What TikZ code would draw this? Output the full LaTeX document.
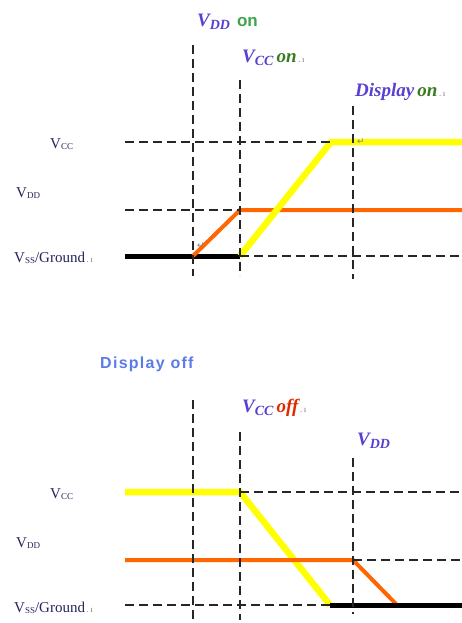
\documentclass[tikz,border=0pt]{standalone}
\usepackage{fontspec}
\setmainfont{Liberation Serif}
\newfontfamily\sansf{Liberation Sans}
\newfontfamily\djv{DejaVu Sans}
\definecolor{navy}{HTML}{23235A}
\definecolor{vpurp}{HTML}{5A3FD0}
\definecolor{ongreen}{HTML}{3FA34D}
\definecolor{onolive}{HTML}{3A7A20}
\definecolor{offred}{HTML}{DD2A00}
\definecolor{dispblue}{HTML}{5B7BE8}
\definecolor{vccy}{HTML}{FFFF00}
\definecolor{vddo}{HTML}{FF6600}
\newcommand\lv[1]{V\raisebox{-1.5pt}{\fontsize{9}{9}\selectfont #1}}
\newcommand\iv[1]{{\bfseries\itshape V\raisebox{-3pt}{\fontsize{14}{14}\selectfont #1}}}
\newcommand\pmark{{\fontsize{9}{9}\selectfont\color{gray}\,.\,ı}}
\begin{document}
\begin{tikzpicture}[x=1pt,y=-1pt,
  gridline/.style={black!85, line width=1.1pt, dash pattern=on 9pt off 5pt},
  vccline/.style={vccy, line width=6.5pt, line join=miter},
  vddline/.style={vddo, line width=4pt},
  vssline/.style={black, line width=5pt},
  lefttext/.style={anchor=base west, inner sep=0pt, text=navy, font=\fontsize{15}{15}\selectfont},
  toptext/.style={anchor=base west, inner sep=0pt, text=vpurp, font=\fontsize{19}{19}\selectfont},
  retmark/.style={inner sep=0pt, text=gray, font=\djv\fontsize{9}{9}\selectfont}]
\useasboundingbox (0,0) rectangle (462,623);
% ---------- TOP (power on) ----------
\coordinate (tL1) at (125,142); \coordinate (tR1) at (462,142);
\coordinate (tL2) at (125,210); \coordinate (tR2) at (462,210);
\coordinate (tL3) at (125,256); \coordinate (tR3) at (462,256);
\coordinate (tA) at (193,256); \coordinate (tB) at (240,210);
\coordinate (tB3) at (240,256); \coordinate (tC) at (331,142);
% colored traces
\draw[vssline] (tL3) -- (tB3);
\draw[vddline] (tA) -- (tB) -- (tR2);
\draw[vccline] (tB3) -- (tC) -- (tR1);
% horizontal dashed
\draw[gridline] (tL1) -- (tC);
\draw[gridline] (tL2) -- (tB);
\draw[gridline] (tB3) -- (tR3);
% vertical dashed
\coordinate (tv1a) at (193,45);  \coordinate (tv1b) at (193,276);
\coordinate (tv2a) at (240,80);  \coordinate (tv2b) at (240,276);
\coordinate (tv3a) at (353,106); \coordinate (tv3b) at (353,279);
\draw[gridline] (tv1a) -- (tv1b);
\draw[gridline] (tv2a) -- (tv2b);
\draw[gridline] (tv3a) -- (tv3b);
\node[retmark] (r1) at (361,142) {↵};
\node[retmark] (r2) at (201,246) {↵};
% labels
\node[lefttext] (lvcc1) at (50,148) {\lv{CC}};
\node[lefttext] (lvdd1) at (16,197) {\lv{DD}};
\node[lefttext] (lvss1) at (14,262) {\lv{SS}/Ground\pmark};
\node[toptext] (vddon) at (197,27) {\iv{DD}\hspace{7pt}{\sansf\bfseries\fontsize{17}{17}\selectfont\color{ongreen}on}};
\node[toptext] (vccon) at (242,63) {\iv{CC}\,{\bfseries\itshape\color{onolive}on}\pmark};
\node[toptext] (dispon) at (355,97) {{\bfseries\itshape Display}\,{\bfseries\itshape\color{onolive}on}\pmark};
% ---------- BOTTOM (power off) ----------
\coordinate (bL1) at (125,492); \coordinate (bR1) at (462,492);
\coordinate (bL2) at (125,560); \coordinate (bR2) at (462,560);
\coordinate (bL3) at (125,605); \coordinate (bR3) at (462,605);
\coordinate (bA) at (240,492); \coordinate (bB) at (330,605);
\coordinate (bC) at (353,560); \coordinate (bD) at (397,605);
\draw[vccline] (bL1) -- (bA) -- (bB);
\draw[vddline] (bL2) -- (bC) -- (bD);
\draw[vssline] (bB) -- (bR3);
\draw[gridline] (bA) -- (bR1);
\draw[gridline] (bC) -- (bR2);
\draw[gridline] (bL3) -- (bB);
\coordinate (bv1a) at (193,400); \coordinate (bv1b) at (193,623);
\coordinate (bv2a) at (240,432); \coordinate (bv2b) at (240,620);
\coordinate (bv3a) at (353,458); \coordinate (bv3b) at (353,614);
\draw[gridline] (bv1a) -- (bv1b);
\draw[gridline] (bv2a) -- (bv2b);
\draw[gridline] (bv3a) -- (bv3b);
\node[lefttext] (lvcc2) at (50,498) {\lv{CC}};
\node[lefttext] (lvdd2) at (16,547) {\lv{DD}};
\node[lefttext] (lvss2) at (14,612) {\lv{SS}/Ground\pmark};
\node[anchor=base west, inner sep=0pt, text=dispblue, font=\sansf\bfseries\fontsize{16}{16}\selectfont\addfontfeature{LetterSpace=8}] (dispoff) at (100,368) {Display off};
\node[toptext] (vccoff) at (242,412) {\iv{CC}\,{\bfseries\itshape\color{offred}off}\pmark};
\node[toptext] (vddoff) at (357,445) {\iv{DD}};
\end{tikzpicture}
\end{document}
